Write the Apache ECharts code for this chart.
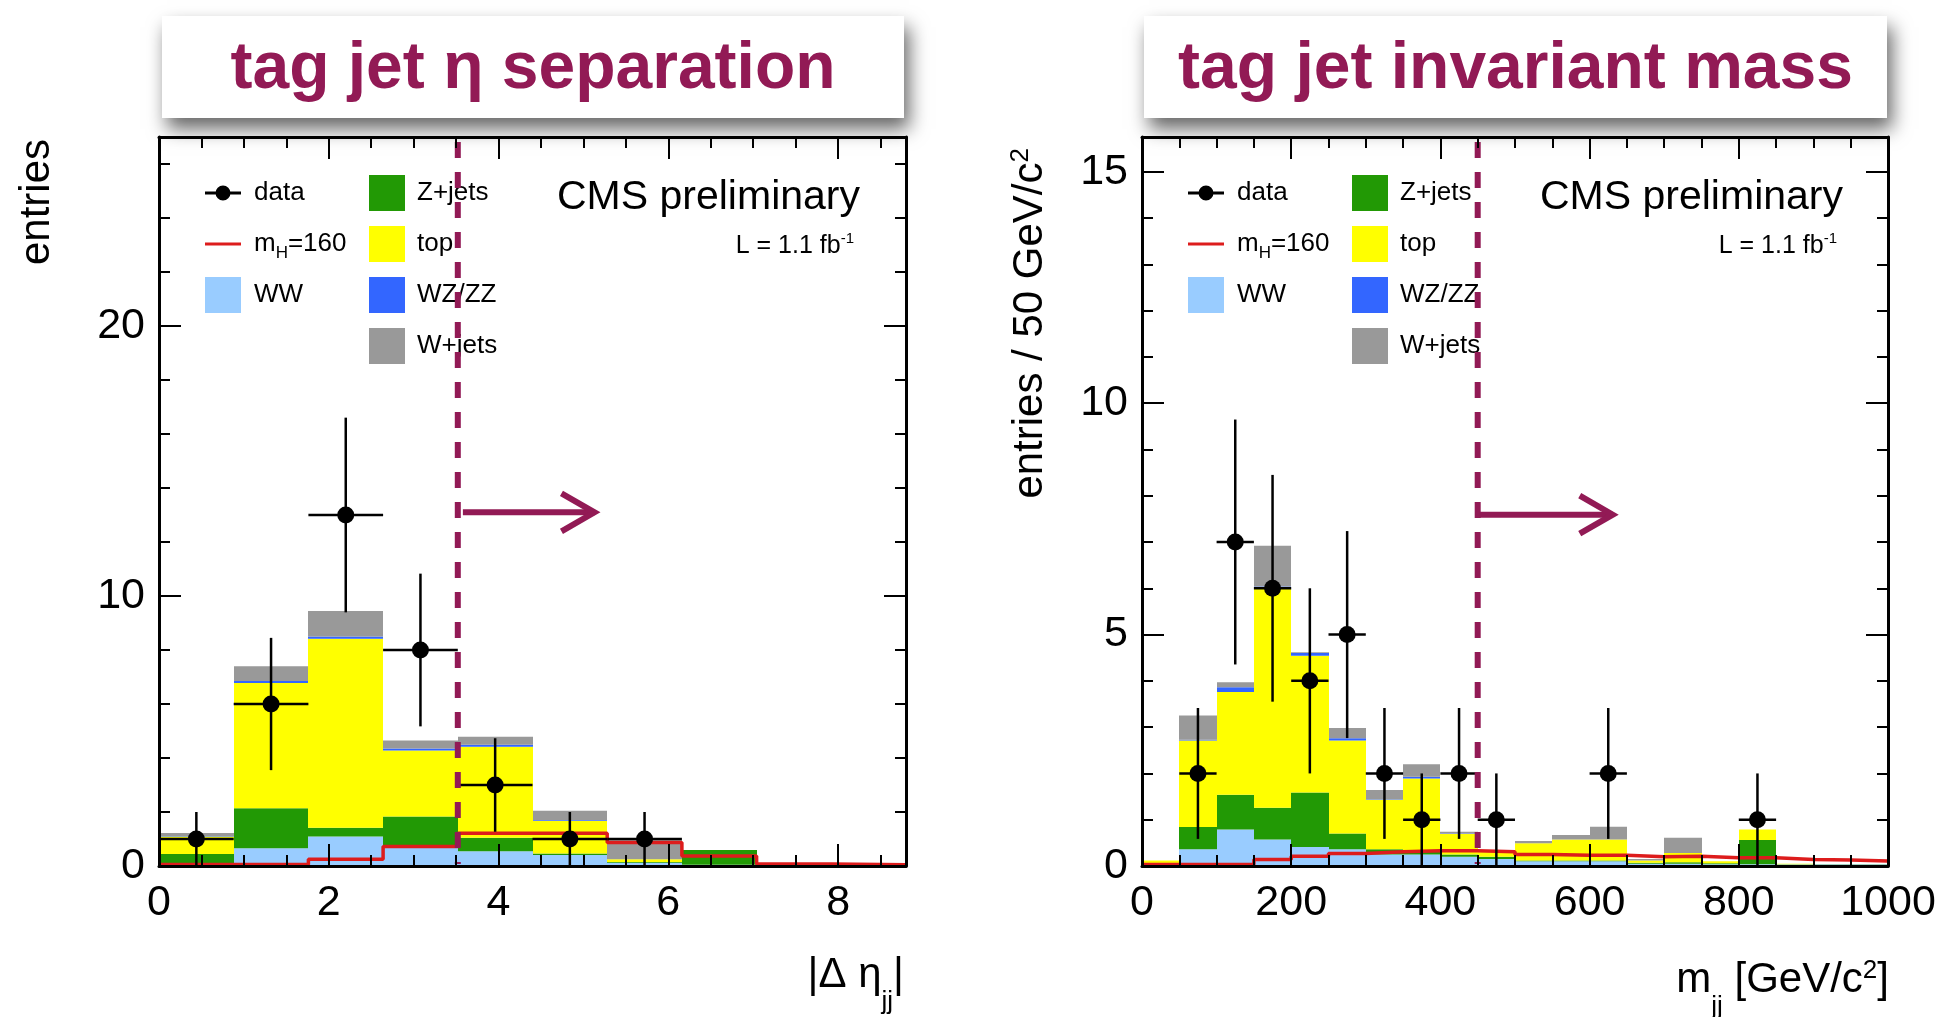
<!DOCTYPE html>
<html>
<head>
<meta charset="utf-8">
<title>tag jet η separation / tag jet invariant mass</title>
<script src="https://cdn.jsdelivr.net/npm/echarts@6/dist/echarts.min.js"></script>
<style>
  html, body { margin: 0; padding: 0; background: #fff; }
  #chart { width: 1940px; height: 1017px; }
</style>
</head>
<body>
<div id="chart"></div>
<script>
// |Δη_jj| : 10 bins
const etaEdges  = [0, 0.88, 1.76, 2.64, 3.52, 4.4, 5.28, 6.16, 7.04, 7.92, 8.8];
const etaWW     = [0.10, 0.66, 1.09, 0.78, 0.55, 0.41, 0.12, 0.05, 0.01, 0.00];
const etaZjets  = [0.34, 1.48, 0.33, 1.05, 0.50, 0.05, 0.03, 0.54, 0.01, 0.00];
const etaTop    = [0.65, 4.64, 7.00, 2.45, 3.37, 1.22, 0.10, 0.00, 0.00, 0.00];
const etaWZZZ   = [0.02, 0.07, 0.08, 0.07, 0.07, 0.02, 0.00, 0.00, 0.00, 0.00];
const etaWjets  = [0.11, 0.55, 0.94, 0.30, 0.30, 0.35, 0.70, 0.00, 0.00, 0.00];
const etaSignal = [0.06, 0.06, 0.25, 0.72, 1.21, 1.21, 0.87, 0.37, 0.07, 0.05];
const etaData   = [1, 6, 13, 8, 3, 1, 1, 0, 0, 0];

// m_jj : 20 bins of 50 GeV
const mjjEdges  = [0, 50, 100, 150, 200, 250, 300, 350, 400, 450, 500,
                   550, 600, 650, 700, 750, 800, 850, 900, 950, 1000];
const mjjWW     = [0.02, 0.36, 0.79, 0.57, 0.41, 0.36, 0.25, 0.25, 0.20, 0.15, 0.10, 0.10, 0.10, 0.05, 0.05, 0.04, 0.04, 0.03, 0.03, 0.03];
const mjjZjets  = [0.02, 0.48, 0.75, 0.69, 1.18, 0.34, 0.11, 0.05, 0.05, 0.05, 0.02, 0.02, 0.02, 0.02, 0.03, 0.02, 0.52, 0.01, 0.01, 0.01];
const mjjTop    = [0.08, 1.87, 2.22, 4.73, 2.95, 2.01, 1.07, 1.59, 0.44, 0.12, 0.37, 0.45, 0.45, 0.05, 0.20, 0.04, 0.23, 0.01, 0.00, 0.00];
const mjjWZZZ   = [0.00, 0.02, 0.10, 0.05, 0.06, 0.05, 0.01, 0.04, 0.01, 0.00, 0.00, 0.00, 0.00, 0.00, 0.00, 0.00, 0.00, 0.00, 0.00, 0.00];
const mjjWjets  = [0.00, 0.52, 0.11, 0.88, 0.02, 0.22, 0.20, 0.27, 0.04, 0.00, 0.05, 0.10, 0.28, 0.03, 0.33, 0.00, 0.00, 0.00, 0.00, 0.00];
const mjjSignal = [0.03, 0.03, 0.03, 0.14, 0.21, 0.27, 0.31, 0.33, 0.33, 0.31, 0.25, 0.23, 0.23, 0.20, 0.21, 0.18, 0.18, 0.14, 0.13, 0.11];
const mjjData   = [0, 2, 7, 6, 4, 5, 2, 1, 2, 1, 0, 0, 2, 0, 0, 0, 1, 0, 0, 0];

// axis ranges and tick steps [min, max], major, minor
const etaRange = [0, 8.8],  etaMajor = 2,   etaMinor = 0.5;
const etaYRange = [0, 27],  etaYMajor = 10, etaYMinor = 2;
const mjjRange = [0, 1000], mjjMajor = 200, mjjMinor = 50;
const mjjYRange = [0, 15.75], mjjYMajor = 5, mjjYMinor = 1;

// selection cut and arrow [from, to, y]
const etaCut = 3.52, etaArrow = [3.58, 5.13, 13.1];
const mjjCut = 450,  mjjArrow = [453, 631, 7.59];

const processNames  = ['WW', 'Z+jets', 'top', 'WZ/ZZ', 'W+jets'];
const processColors = ['#99ccff', '#229905', '#ffff00', '#3366ff', '#999999'];
const signalName = 'mH=160';
const signalColor = '#dd1c1c';
const CUT_COLOR = '#921a55';
const FONT = '"Liberation Sans", Arial, Helvetica, sans-serif';

function renderBin(params, api) {
    const lo = api.coord([api.value(0), api.value(2)]);
    const hi = api.coord([api.value(1), api.value(3)]);
    if (lo[1] - hi[1] < 0.3) return null;
    const x0 = Math.round(lo[0]), x1 = Math.round(hi[0]);
    return {
        type: 'rect',
        shape: { x: x0, y: hi[1], width: x1 - x0, height: lo[1] - hi[1] },
        style: { fill: api.visual('color') }
    };
}

function renderPoint(params, api) {
    const n = api.value(1);
    if (n <= 0) return null;
    const x = api.value(0), hw = api.value(2), err = Math.sqrt(n);
    const c = api.coord([x, n]);
    const l = api.coord([x - hw, n]);
    const r = api.coord([x + hw, n]);
    const t = api.coord([x, n + err]);
    const b = api.coord([x, Math.max(0, n - err)]);
    const st = { stroke: '#000', lineWidth: 2.5 };
    return {
        type: 'group',
        children: [
            { type: 'line', shape: { x1: l[0], y1: c[1], x2: r[0], y2: c[1] }, style: st },
            { type: 'line', shape: { x1: c[0], y1: t[1], x2: c[0], y2: b[1] }, style: st },
            { type: 'circle', shape: { cx: c[0], cy: c[1], r: 8.5 }, style: { fill: '#000' } }
        ]
    };
}

function renderCut(params, api) {
    const lo = api.coord([api.value(0), 0]);
    const hi = api.coord([api.value(0), api.value(1)]);
    const a0 = api.coord([api.value(2), api.value(4)]);
    const a1 = api.coord([api.value(3), api.value(4)]);
    const st = { stroke: CUT_COLOR, lineWidth: 6, fill: null };
    return {
        type: 'group',
        children: [
            { type: 'line', shape: { x1: lo[0], y1: hi[1] + 5, x2: lo[0], y2: lo[1] - 2 },
              style: Object.assign({ lineDash: [16, 14] }, st) },
            { type: 'line', shape: { x1: a0[0], y1: a0[1], x2: a1[0], y2: a1[1] }, style: st },
            { type: 'polyline', shape: { points: [[a1[0] - 33, a1[1] - 19], [a1[0], a1[1]], [a1[0] - 33, a1[1] + 19]] },
              style: st }
        ]
    };
}

function histSeries(edges, components, xi, yi) {
    const base = edges.slice(1).map(() => 0);
    return components.map((vals, k) => {
        const items = vals.map((v, i) => {
            const item = [edges[i], edges[i + 1], base[i], base[i] + v];
            base[i] += v;
            return item;
        });
        return {
            type: 'custom', name: processNames[k], coordinateSystem: 'cartesian2d',
            xAxisIndex: xi, yAxisIndex: yi, z: 2, silent: true,
            itemStyle: { color: processColors[k] },
            encode: { x: [0, 1], y: [2, 3] },
            renderItem: renderBin, data: items
        };
    });
}

function signalSeries(edges, vals, xi, yi) {
    const pts = vals.map((v, i) => [edges[i], v]);
    pts.push([edges[edges.length - 1], vals[vals.length - 1]]);
    return {
        type: 'line', name: signalName, step: 'end', xAxisIndex: xi, yAxisIndex: yi, z: 3, silent: true,
        symbol: 'none', data: pts,
        lineStyle: { color: signalColor, width: 3.5 }, itemStyle: { color: signalColor }
    };
}

function dataSeries(edges, counts, xi, yi) {
    const items = counts.map((n, i) => [(edges[i] + edges[i + 1]) / 2, n, (edges[i + 1] - edges[i]) / 2]);
    return {
        type: 'custom', name: 'data', coordinateSystem: 'cartesian2d',
        xAxisIndex: xi, yAxisIndex: yi, z: 4, silent: true,
        itemStyle: { color: '#000' }, encode: { x: 0, y: 1 },
        renderItem: renderPoint, data: items
    };
}

function cutSeries(cut, arrow, yMax, xi, yi) {
    return {
        type: 'custom', name: 'cut', coordinateSystem: 'cartesian2d',
        xAxisIndex: xi, yAxisIndex: yi, z: 6, silent: true,
        encode: { x: 0, y: 1 }, renderItem: renderCut,
        data: [[cut, yMax, arrow[0], arrow[1], arrow[2]]]
    };
}

function buildAxes(gridIndex, range, major, minor, isX, showMax) {
    const sides = isX ? ['bottom', 'top'] : ['left', 'right'];
    const list = [];
    sides.forEach((p, s) => {
        list.push({
            gridIndex, type: 'value', position: p, min: range[0], max: range[1], interval: major, z: 10,
            axisLine: { show: true, onZero: false, lineStyle: { color: '#000', width: 3 } },
            axisTick: { show: true, inside: true, length: 22, lineStyle: { color: '#000', width: 2 } },
            axisLabel: {
                show: s === 0, margin: isX ? 16 : 14, color: '#000', fontSize: 43, fontFamily: FONT,
                showMinLabel: true, showMaxLabel: showMax,
                formatter: function (v) { return String(v); }
            },
            splitLine: { show: false }
        });
        list.push({
            gridIndex, type: 'value', position: p, min: range[0], max: range[1], interval: minor, z: 10,
            axisLine: { show: false, onZero: false },
            axisTick: { show: true, inside: true, length: 11, lineStyle: { color: '#000', width: 2 } },
            axisLabel: { show: false },
            splitLine: { show: false }
        });
    });
    return list;
}

// legend icons drawn in a 36x36 box (tiny corner specks keep the box size)
const corners = 'M0,0L0.01,0L0,0.01Z M36,0L35.99,0L36,0.01Z M0,36L0.01,36L0,35.99Z M36,36L35.99,36L36,35.99Z ';
const dataIcon = 'path://' + corners + 'M0,16.5L36,16.5L36,19.5L0,19.5Z M25.5,18A7.5,7.5,0,1,1,10.5,18A7.5,7.5,0,1,1,25.5,18Z';
const lineIcon = 'path://' + corners + 'M0,16.5L36,16.5L36,19.5L0,19.5Z';

const legendText = {
    fontSize: 26, fontFamily: FONT, color: '#000', padding: [0, 0, 0, 8],
    rich: {
        m: { fontSize: 26, fontFamily: FONT, color: '#000', lineHeight: 36 },
        h: { fontSize: 17, fontFamily: FONT, color: '#000', lineHeight: 17, verticalAlign: 'bottom' }
    }
};
function legendFormatter(name) {
    return name === signalName ? '{m|m}{h|H}{m|=160}' : name;
}

function legendsFor(dx) {
    return [
        {
            left: 205 + dx, top: 175, orient: 'vertical', padding: 0, itemWidth: 36, itemHeight: 36, itemGap: 15,
            selectedMode: false, formatter: legendFormatter, textStyle: legendText, icon: 'rect',
            data: [{ name: 'data', icon: dataIcon }, { name: signalName, icon: lineIcon }, { name: 'WW', icon: 'rect' }]
        },
        {
            left: 369 + dx, top: 175, orient: 'vertical', padding: 0, itemWidth: 36, itemHeight: 36, itemGap: 15,
            selectedMode: false, textStyle: Object.assign({}, legendText, { padding: [0, 0, 0, 7] }), icon: 'rect',
            data: ['Z+jets', 'top', 'WZ/ZZ', 'W+jets']
        }
    ];
}

function titleBox(x, w, text) {
    return [
        {
            type: 'rect', shape: { x: x, y: 16, width: w, height: 102 },
            style: { fill: '#fff', shadowBlur: 18, shadowOffsetX: 5, shadowOffsetY: 11, shadowColor: 'rgba(0,0,0,0.6)' },
            z: 1
        },
        {
            type: 'text', x: x + w / 2, y: 70, z: 2,
            style: { text: text, fill: CUT_COLOR, font: 'bold 66px ' + FONT, align: 'center', verticalAlign: 'middle' }
        }
    ];
}

function cmsLabels(dx) {
    return [
        { type: 'text', x: 860 + dx, y: 198, style: { text: 'CMS preliminary', fill: '#000', font: '41px ' + FONT, align: 'right', verticalAlign: 'middle' } },
        {
            type: 'text', x: 854 + dx, y: 246,
            style: {
                text: '{a|L = 1.1 fb}{b|-1}', align: 'right', verticalAlign: 'middle',
                rich: {
                    a: { fontSize: 25, fontFamily: FONT, fill: '#000', lineHeight: 32 },
                    b: { fontSize: 15, fontFamily: FONT, fill: '#000', verticalAlign: 'top', padding: [1, 0, 0, 0] }
                }
            }
        }
    ];
}

const chart = echarts.init(document.getElementById('chart'));

const xAxes = buildAxes(0, etaRange, etaMajor, etaMinor, true, false)
    .concat(buildAxes(1, mjjRange, mjjMajor, mjjMinor, true, true));
const yAxes = buildAxes(0, etaYRange, etaYMajor, etaYMinor, false, false)
    .concat(buildAxes(1, mjjYRange, mjjYMajor, mjjYMinor, false, false));

const series = []
    .concat(histSeries(etaEdges, [etaWW, etaZjets, etaTop, etaWZZZ, etaWjets], 0, 0))
    .concat([signalSeries(etaEdges, etaSignal, 0, 0), dataSeries(etaEdges, etaData, 0, 0),
             cutSeries(etaCut, etaArrow, etaYRange[1], 0, 0)])
    .concat(histSeries(mjjEdges, [mjjWW, mjjZjets, mjjTop, mjjWZZZ, mjjWjets], 4, 4))
    .concat([signalSeries(mjjEdges, mjjSignal, 4, 4), dataSeries(mjjEdges, mjjData, 4, 4),
             cutSeries(mjjCut, mjjArrow, mjjYRange[1], 4, 4)]);

const axisTitle = {
    t: { fontSize: 42, fontFamily: FONT, fill: '#000', lineHeight: 80 },
    s: { fontSize: 26, fontFamily: FONT, fill: '#000', lineHeight: 26, verticalAlign: 'bottom' },
    p: { fontSize: 26, fontFamily: FONT, fill: '#000', verticalAlign: 'top', padding: [18, 0, 0, 0] }
};

const option = {
    animation: false,
    backgroundColor: '#fff',
    grid: [
        { left: 159, top: 137, width: 747, height: 729, outerBoundsMode: 'none' },
        { left: 1142, top: 137, width: 746, height: 729, outerBoundsMode: 'none' }
    ],
    xAxis: xAxes,
    yAxis: yAxes,
    legend: legendsFor(0).concat(legendsFor(983)),
    graphic: {
        elements: []
            .concat(titleBox(162, 742, 'tag jet η separation'))
            .concat(titleBox(1144, 743, 'tag jet invariant mass'))
            .concat(cmsLabels(0)).concat(cmsLabels(983))
            .concat([
                { type: 'text', x: 37, y: 139, rotation: Math.PI / 2,
                  style: { text: 'entries', font: '42px ' + FONT, fill: '#000', align: 'right', verticalAlign: 'middle' } },
                { type: 'text', x: 1030, y: 148, rotation: Math.PI / 2,
                  style: { text: '{t|entries / 50 GeV/c}{p|2}', align: 'right', verticalAlign: 'middle', rich: axisTitle } },
                { type: 'text', x: 904, y: 975,
                  style: { text: '{t||Δ η}{s|jj}{t||}', align: 'right', verticalAlign: 'middle', rich: axisTitle } },
                { type: 'text', x: 1889, y: 980,
                  style: { text: '{t|m}{s|jj}{t| [GeV/c}{p|2}{t|]}', align: 'right', verticalAlign: 'middle', rich: axisTitle } }
            ])
    },
    series: series
};

chart.setOption(option);
window.addEventListener('resize', function () { chart.resize(); });
</script>
</body>
</html>
